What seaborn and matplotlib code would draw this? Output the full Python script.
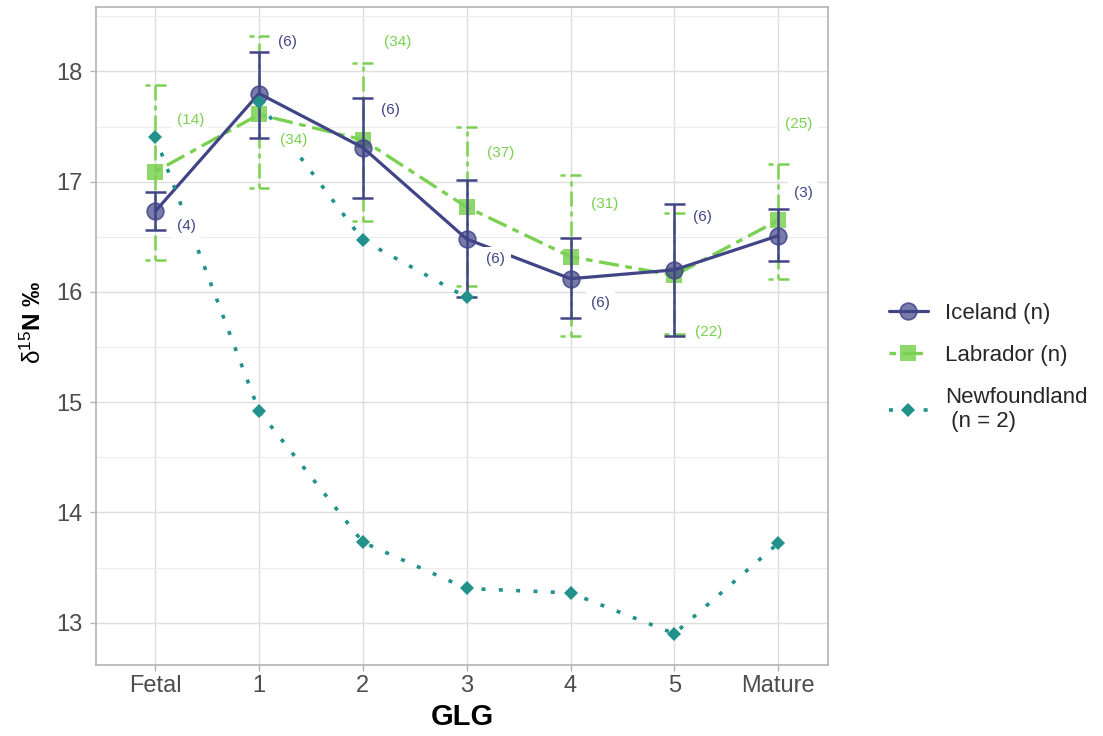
import numpy as np
import pandas as pd
import matplotlib
matplotlib.use("Agg")
import matplotlib.pyplot as plt
import seaborn as sns
from matplotlib.ticker import MultipleLocator

# ---- data: delta-15N by growth layer group (GLG) ----
stages = ["Fetal", "1", "2", "3", "4", "5", "Mature"]

iceland_mean = [16.73, 17.80, 17.31, 16.48, 16.12, 16.20, 16.51]
iceland_low = [16.56, 17.40, 16.85, 15.95, 15.76, 15.60, 16.28]
iceland_high = [16.91, 18.18, 17.76, 17.02, 16.49, 16.80, 16.75]
iceland_n = [4, 6, 6, 6, 6, 6, 3]

labrador_mean = [17.09, 17.61, 17.38, 16.77, 16.32, 16.15, 16.65]
labrador_low = [16.29, 16.94, 16.64, 16.05, 15.60, 15.62, 16.12]
labrador_high = [17.88, 18.32, 18.08, 17.50, 17.06, 16.72, 17.16]
labrador_n = [14, 34, 34, 37, 31, 22, 25]

# two Newfoundland individuals
newfoundland_a = [17.41, 14.92, 13.73, 13.31, 13.27, 12.90, 13.72]
newfoundland_b = [np.nan, 17.72, 16.47, 15.95, np.nan, np.nan, np.nan]

# ---- style ----
ICE = "#414487"
LAB = "#7AD151"
NFL = "#21918C"
TWODASH = (0, (2, 2, 6, 2))
DOTTED = (0, (1.1, 3.7))

# placement of the sample-size labels (offset from category, y in data units)
ice_label_dx = [0.30, 0.27, 0.27, 0.28, 0.29, 0.27, 0.24]
ice_label_y = [16.60, 18.27, 17.65, 16.30, 15.90, 16.68, 16.90]
lab_label_dx = [0.34, 0.33, 0.34, 0.33, 0.33, 0.33, 0.20]
lab_label_y = [17.56, 17.38, 18.27, 17.26, 16.80, 15.64, 17.52]

sns.set_style("white")
plt.rcParams["font.family"] = ["Liberation Sans", "DejaVu Sans"]
plt.rcParams["mathtext.fontset"] = "custom"
plt.rcParams["mathtext.rm"] = "Liberation Sans"
plt.rcParams["mathtext.bf"] = "Liberation Sans:bold"
plt.rcParams["mathtext.it"] = "Liberation Sans:italic"

fig = plt.figure(figsize=(11.03, 7.36), dpi=100)
ax = fig.add_axes([0.0870, 0.0971, 0.6637, 0.8934])

pos = np.arange(len(stages))
df_ice = pd.DataFrame({"pos": pos, "d15N": iceland_mean})
df_lab = pd.DataFrame({"pos": pos, "d15N": labrador_mean})
df_nfa = pd.DataFrame({"pos": pos, "d15N": newfoundland_a}).dropna()
df_nfb = pd.DataFrame({"pos": pos, "d15N": newfoundland_b}).dropna()

# Labrador: error bars + twodash line with squares
ax.vlines(pos, labrador_low, labrador_high, colors=LAB, lw=1.8,
          linestyles=[TWODASH], zorder=2)
for y in (labrador_low, labrador_high):
    ax.hlines(y, pos - 0.1, pos + 0.1, colors=LAB, lw=1.8,
              linestyles=[TWODASH], zorder=2)
sns.lineplot(data=df_lab, x="pos", y="d15N", ax=ax, estimator=None, sort=False,
             color=LAB, lw=2.4, linestyle=TWODASH, marker="s", markersize=11,
             markerfacecolor=(0.478, 0.82, 0.318, 0.85), markeredgecolor="none",
             markeredgewidth=0, label="Labrador (n)", zorder=3)

# Iceland: error bars + solid line with circles
ax.vlines(pos, iceland_low, iceland_high, colors=ICE, lw=1.8, zorder=4)
for y in (iceland_low, iceland_high):
    ax.hlines(y, pos - 0.1, pos + 0.1, colors=ICE, lw=1.8, zorder=4)
sns.lineplot(data=df_ice, x="pos", y="d15N", ax=ax, estimator=None, sort=False,
             color=ICE, lw=2.3, marker="o", markersize=12,
             markerfacecolor=(0.255, 0.267, 0.529, 0.7),
             markeredgecolor=(0.255, 0.267, 0.529, 0.85),
             markeredgewidth=1.2, label="Iceland (n)", zorder=5)

# Newfoundland individuals: dotted lines with diamonds
sns.lineplot(data=df_nfa, x="pos", y="d15N", ax=ax, estimator=None, sort=False,
             color=NFL, lw=2.6, linestyle=DOTTED, marker="D", markersize=7.6,
             markerfacecolor=NFL, markeredgecolor="none", markeredgewidth=0,
             label="Newfoundland\n (n = 2)", zorder=6)
sns.lineplot(data=df_nfb, x="pos", y="d15N", ax=ax, estimator=None, sort=False,
             color=NFL, lw=2.6, linestyle=DOTTED, marker="D", markersize=7.6,
             markerfacecolor=NFL, markeredgecolor="none", markeredgewidth=0,
             zorder=6)

# sample-size labels
box = dict(boxstyle="square,pad=0.35", fc="white", ec="none")
for i in range(len(stages)):
    ax.text(pos[i] + ice_label_dx[i], ice_label_y[i], f"({iceland_n[i]})",
            ha="center", va="center", fontsize=11, color=ICE, bbox=box, zorder=7)
    ax.text(pos[i] + lab_label_dx[i], lab_label_y[i], f"({labrador_n[i]})",
            ha="center", va="center", fontsize=11, color=LAB, bbox=box, zorder=7)

# axes
ax.set_xlim(-0.57, 6.48)
ax.set_ylim(12.62, 18.585)
ax.set_xticks(pos)
ax.set_xticklabels(stages)
ax.yaxis.set_major_locator(MultipleLocator(1))
ax.yaxis.set_minor_locator(MultipleLocator(0.5))
ax.set_axisbelow(True)
ax.grid(which="major", color="#DEDEDE", lw=1.0)
ax.grid(which="minor", axis="y", color="#ECECEC", lw=0.8)
for sp in ax.spines.values():
    sp.set_visible(True)
    sp.set_color("#B3B3B3")
    sp.set_linewidth(1.2)
ax.tick_params(which="major", length=4.5, width=1, color="#B3B3B3",
               labelsize=17, labelcolor="#4D4D4D", pad=3,
               left=True, bottom=True)
ax.tick_params(axis="y", which="major", pad=5)
ax.tick_params(which="minor", length=0)

ax.set_xlabel("GLG", fontsize=21, fontweight="bold", color="black")
ax.xaxis.set_label_coords(0.5, -0.058)
ax.xaxis.label.set_va("top")
ax.set_ylabel(r"$\mathrm{\delta}^{\mathrm{15}}\mathbf{N\ ‰}$", fontsize=17.5,
              color="black")
ax.yaxis.set_label_coords(-0.068, 0.52)

handles = [ax.lines[1], ax.lines[0], ax.lines[2]]
ax.legend(handles=handles, labels=[h.get_label() for h in handles],
          frameon=False, fontsize=16, handlelength=1.75, handletextpad=0.8,
          labelspacing=0.95, loc="upper left", borderaxespad=0,
          bbox_to_anchor=(0.7976, 0.601), bbox_transform=fig.transFigure)

fig.savefig("out.png", dpi=100)
